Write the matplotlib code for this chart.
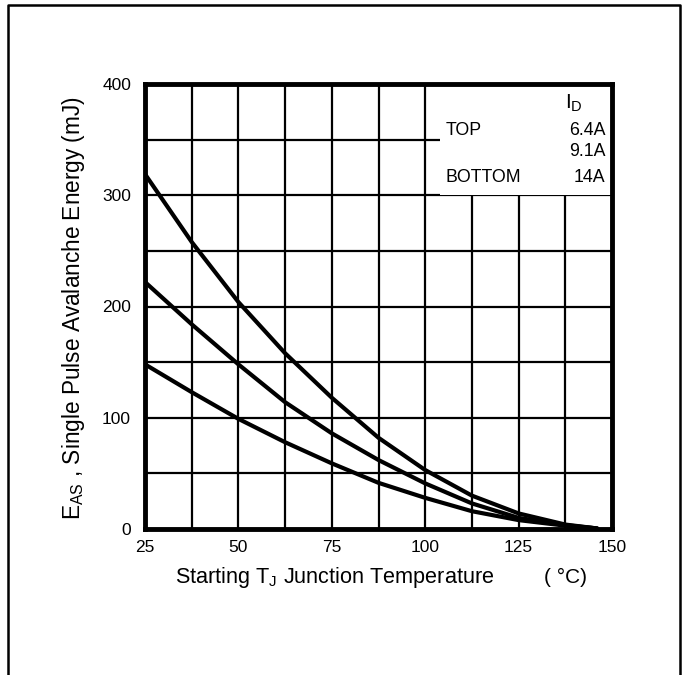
import matplotlib
matplotlib.use("Agg")
import matplotlib.pyplot as plt
from matplotlib.patches import Rectangle
from matplotlib.lines import Line2D

plt.rcParams['font.family'] = ['Liberation Sans', 'DejaVu Sans']
plt.rcParams['mathtext.fontset'] = 'custom'
plt.rcParams['mathtext.rm'] = 'Liberation Sans'
plt.rcParams['mathtext.it'] = 'Liberation Sans'

# ---- data ----
temp_c = [25, 37.5, 50, 62.5, 75, 87.5, 100, 112.5, 125, 137.5, 146]
eas_64a = [319, 258, 204, 158, 118, 82, 53, 30, 14, 4, 0.5]
eas_91a = [222, 184, 148, 114, 86, 62, 41, 23, 10, 3.5, 0.5]
eas_14a = [148, 123, 99, 78, 59, 41.5, 28, 16, 8, 3, 0.5]

x_ticks = [25, 50, 75, 100, 125, 150]
y_ticks = [0, 100, 200, 300, 400]
x_grid = [25 + 12.5 * i for i in range(11)]
y_grid = [50 * i for i in range(9)]

legend_title = r"I$_\mathregular{D}$"
legend_rows = [("TOP", "6.4A"), ("", "9.1A"), ("BOTTOM", "14A")]

fig = plt.figure(figsize=(6.83, 6.75), dpi=100)
ax = fig.add_axes([145 / 683, 1 - 529 / 675, (612 - 145) / 683, (529 - 84) / 675])

ax.set_xlim(25, 150)
ax.set_ylim(0, 400)
ax.set_xticks(x_grid)
ax.set_yticks(y_grid)
ax.set_xticklabels([str(int(v)) if v in x_ticks else "" for v in x_grid])
ax.set_yticklabels([str(int(v)) if v in y_ticks else "" for v in y_grid])
ax.tick_params(length=0, labelsize=12.5, colors='black')
ax.tick_params(axis='x', pad=8)
ax.tick_params(axis='y', pad=10)
ax.set_axisbelow(True)
ax.grid(True, color='black', linewidth=1.6)

for s in ax.spines.values():
    s.set_linewidth(3.5)
    s.set_color('black')

# legend box (white panel hiding the grid)
ax.add_patch(Rectangle((104, 300), 46, 100, facecolor='white', edgecolor='none', zorder=1))

for y in (eas_64a, eas_91a, eas_14a):
    ax.plot(temp_c, y, color='black', linewidth=3.0, zorder=3, solid_capstyle='round')

# legend text
ax.text(142.3, 392, legend_title, ha='right', va='top', fontsize=15)
row_y = [358, 339, 316]
for (lab, val), yy in zip(legend_rows, row_y):
    if lab:
        ax.text(105.5, yy, lab, ha='left', va='center', fontsize=12.8)
    ax.text(148.2, yy, val, ha='right', va='center', fontsize=12.8)

# axis labels
fig.text(175 / 683, 1 - 577 / 675, r"Starting T$_\mathregular{J}$ Junction Temperature",
         ha='left', va='center', fontsize=15.6)
fig.text(544 / 683, 1 - 577 / 675, "( °C)", ha='left', va='center', fontsize=15)
fig.text(74 / 683, 1 - 308 / 675, r"E$_\mathregular{AS}$ , Single Pulse Avalanche Energy (mJ)",
         ha='center', va='center', rotation=90, fontsize=16.3)

# outer frame
fx0, fx1, fy1 = 8 / 683, 680 / 683, 1 - 5 / 675
fig.add_artist(Line2D([fx0, fx0, fx1, fx1], [0, fy1, fy1, 0], color='black',
                      linewidth=1.8, transform=fig.transFigure))

fig.savefig("out.png", dpi=100)
